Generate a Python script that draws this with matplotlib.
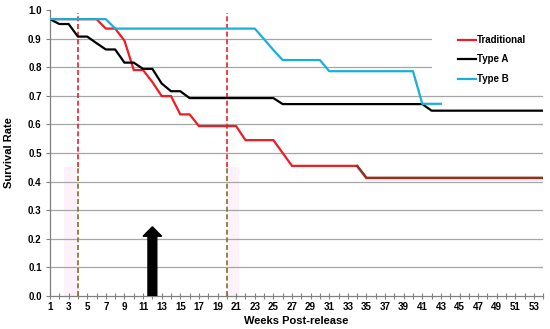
import numpy as np
import matplotlib
matplotlib.use("Agg")
import matplotlib.pyplot as plt
from matplotlib.patches import Rectangle, FancyArrow

plt.rcParams['font.family'] = ['Liberation Sans', 'DejaVu Sans']

weeks = list(range(1, 55))

traditional = ([0.968] * 6 + [0.935, 0.935, 0.893, 0.790, 0.790, 0.748, 0.699, 0.699,
               0.635, 0.635] + [0.594] * 5 + [0.545] * 4 + [0.500] + [0.455] * 8
               + [0.413] * 20)
type_a = ([0.968, 0.951, 0.951, 0.907, 0.907, 0.884, 0.862, 0.862, 0.816, 0.816,
           0.794, 0.794, 0.743, 0.716, 0.716] + [0.692] * 10 + [0.671] * 16
          + [0.648] * 13)
type_b = ([0.968] * 7 + [0.935] * 16 + [0.898, 0.860] + [0.825] * 5 + [0.786] * 10
          + [0.672] * 3 + [np.nan] * 11)

series_names = ["Traditional", "Type A", "Type B"]
series_colors = ["#EE1C24", "#000000", "#1AAFDA"]
event_weeks = [4, 20]
arrow_week = 12
arrow_top = 0.242
yticks = [round(0.1 * i, 1) for i in range(11)]
xtick_labels = [str(w) if w % 2 == 1 else "" for w in weeks]

fig = plt.figure(figsize=(5.5, 3.29), dpi=100)
ax = fig.add_axes([50 / 550, 1 - 296 / 329, (543.3 - 50) / 550, (296 - 10) / 329])
ax.set_xlim(1, 54)
ax.set_ylim(0, 1.0)

# gridlines
for y in yticks[1:-1]:
    ax.axhline(y, color="#A6A6A6", lw=0.9, zorder=1)

# faint pink bands
ax.axvspan(2.5, 4, ymin=0, ymax=0.45, color="#FCE4F2", alpha=0.45, lw=0, zorder=0.5)
ax.axvspan(20, 21.3, ymin=0, ymax=0.45, color="#FCE4F2", alpha=0.45, lw=0, zorder=0.5)

# vertical dashed event lines
for w in event_weeks:
    ax.plot([w, w], [0.45, 0.99], color="#E8202A", lw=1.2, ls=(0, (3, 1.6)), zorder=3)
    ax.plot([w, w], [0, 0.45], color="#8A6A2A", lw=1.2, ls=(0, (3, 1.6)), zorder=3)

# white legend area
ax.add_patch(Rectangle((0.775, 0.74), 0.25, 0.18, transform=ax.transAxes,
                       facecolor="white", edgecolor="none", zorder=2, clip_on=False))

tr = np.array(traditional)
ax.plot(weeks, tr, color=series_colors[0], lw=1.6, zorder=4, solid_joinstyle="miter")
ax.plot(weeks[33:], tr[33:] - 0.006, color="#F6C8EC", lw=1.2, zorder=3.5)
ax.plot(weeks[33:], tr[33:], color="#7E3A22", lw=1.6, zorder=4.1)
ax.plot(weeks, type_a, color=series_colors[1], lw=1.6, zorder=5)
ax.plot(weeks, type_b, color=series_colors[2], lw=1.6, zorder=6)

# arrow
ax.add_patch(FancyArrow(arrow_week, 0, 0, arrow_top, width=0.95, head_width=2.0,
                        head_length=0.033, length_includes_head=True,
                        color="black", zorder=7))

# legend (manual placement in axes fraction)
leg_y = [0.895, 0.829, 0.760]
for name, col, yy in zip(series_names, series_colors, leg_y):
    ax.plot([0.827, 0.863], [yy, yy], transform=ax.transAxes, color=col, lw=1.6,
            clip_on=False, zorder=8)
    ax.text(0.866, yy, name, transform=ax.transAxes, fontsize=7, fontweight="bold",
            va="center", ha="left", zorder=8)

# axes styling
for s in ["top", "right"]:
    ax.spines[s].set_visible(False)
ax.spines["left"].set_color("#808080")
ax.spines["bottom"].set_color("#808080")
ax.spines["left"].set_linewidth(0.9)
ax.spines["bottom"].set_linewidth(0.9)

ax.set_yticks(yticks)
ax.set_yticklabels([f"{v:.1f}" for v in yticks])
ax.set_xticks(weeks)
ax.set_xticklabels(xtick_labels)
ax.tick_params(axis="y", direction="out", length=3, width=0.8, color="#808080",
               labelsize=7, pad=3)
ax.tick_params(axis="x", direction="inout", length=5, width=0.8, color="#808080",
               labelsize=7, pad=2)
for lab in ax.get_xticklabels() + ax.get_yticklabels():
    lab.set_fontweight("bold")

ax.set_ylabel("Survival Rate", fontsize=8, fontweight="bold")
ax.yaxis.set_label_coords(-0.072, 0.5)
ax.set_xlabel("Weeks Post-release", fontsize=8, fontweight="bold")
ax.xaxis.set_label_coords(0.5, -0.07)

fig.savefig("out.png", dpi=100)
